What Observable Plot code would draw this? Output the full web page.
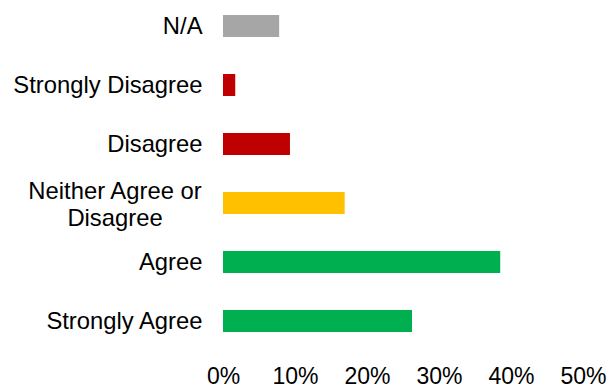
<!DOCTYPE html>
<html>
<head>
<meta charset="utf-8">
<script src="https://cdn.jsdelivr.net/npm/d3@7"></script>
<script src="https://cdn.jsdelivr.net/npm/@observablehq/plot@0.6"></script>
<style>
  html, body { margin: 0; padding: 0; background: #fff; }
  #chart svg { display: block; }
</style>
</head>
<body>
<div id="chart"></div>
<script>
const categories = ["N/A", "Strongly Disagree", "Disagree", "Neither Agree or Disagree", "Agree", "Strongly Agree"];
const labels = ["N/A", "Strongly Disagree", "Disagree", "Neither Agree or\nDisagree", "Agree", "Strongly Agree"];
const values = [0.078, 0.017, 0.093, 0.169, 0.385, 0.2625];
const colors = ["#A6A6A6", "#C00000", "#C00000", "#FFC000", "#00B050", "#00B050"];
const xTicks = [0, 0.1, 0.2, 0.3, 0.4, 0.5];

const data = categories.map((c, i) => ({category: c, label: labels[i], value: values[i], color: colors[i]}));
const single = data.filter(d => !d.label.includes("\n"));
const multi = data.filter(d => d.label.includes("\n"));

const font = "'Liberation Sans', Arial, sans-serif";

const chart = Plot.plot({
  width: 615,
  height: 390,
  marginLeft: 223,
  marginRight: 32,
  marginTop: 0,
  marginBottom: 43,
  style: {fontFamily: font, color: "#000", background: "#fff"},
  x: {domain: [0, 0.5], axis: null},
  y: {domain: categories, paddingInner: 0.631, paddingOuter: 0.218, axis: null},
  marks: [
    Plot.barX(data, {y: "category", x: "value", fill: "color"}),
    Plot.axisX({ticks: xTicks, tickSize: 0, tickPadding: 20, tickFormat: d3.format(".0%"), label: null, fontSize: 23, fill: "#000", anchor: "bottom"}),
    Plot.text(single, {y: "category", text: "label", frameAnchor: "left", textAnchor: "end", dx: -21, fontSize: 23.8, fill: "#000"}),
    Plot.text(multi, {y: "category", text: "label", frameAnchor: "left", textAnchor: "middle", dx: -108.5, lineHeight: 1.14, fontSize: 23.8, fill: "#000"})
  ]
});
document.getElementById("chart").appendChild(chart);
</script>
</body>
</html>
